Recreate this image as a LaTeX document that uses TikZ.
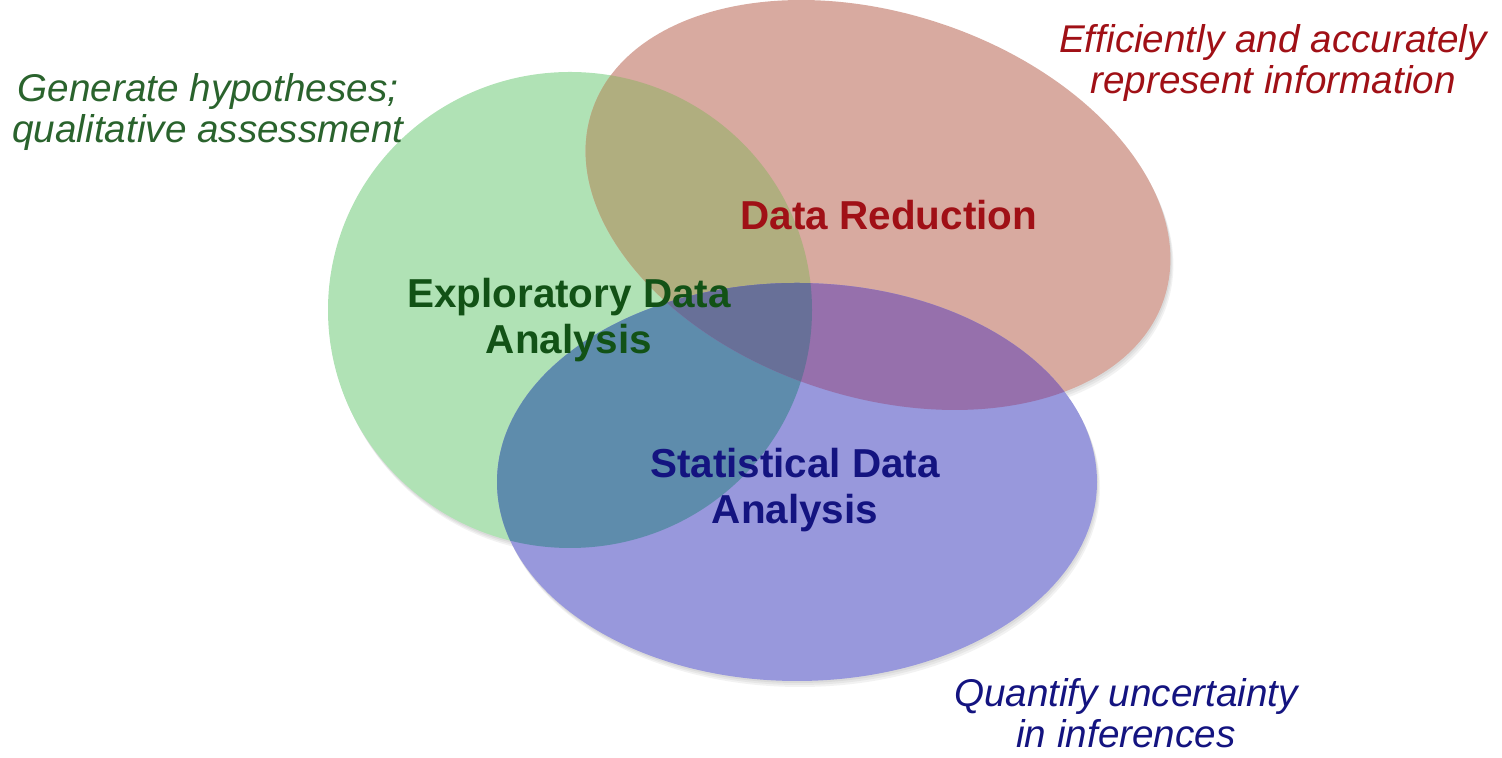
\documentclass[tikz,border=0pt]{standalone}
\usepackage{fontspec}
\setmainfont{Liberation Sans}

\definecolor{edafill}{RGB}{176,226,181}
\definecolor{drfill}{RGB}{216,170,160}
\definecolor{sdafill}{RGB}{152,152,220}
\definecolor{edadrfill}{RGB}{176,174,127}
\definecolor{edasdafill}{RGB}{94,140,172}
\definecolor{drsdafill}{RGB}{150,112,172}
\definecolor{allfill}{RGB}{104,112,152}
\definecolor{edatext}{RGB}{18,82,22}
\definecolor{drtext}{RGB}{160,16,22}
\definecolor{sdatext}{RGB}{20,20,128}

\newcommand\edashape{(11.40,8.96) ellipse [x radius=4.84, y radius=4.76]}
\newcommand\drshape{[rotate around={-18:(17.56,11.06)}] (17.56,11.06) ellipse [x radius=6.02, y radius=3.84]}
\newcommand\sdashape{(15.94,5.52) ellipse [x radius=6.00, y radius=3.98]}

\begin{document}
\begin{tikzpicture}[title/.style={font=\fontsize{23}{26}\selectfont\bfseries,align=center,text=#1},
                    note/.style={font=\fontsize{22}{23.5}\selectfont\itshape,align=center,text=#1},
                    haze/.style={black,opacity=0.05}]
\useasboundingbox (0,0) rectangle (30.04,15.16);
% soft shadows under the three sets
\foreach \d in {0.04,0.08,0.12} {
  \fill[haze] [shift={(\d/2,-\d)}] \edashape;
  \fill[haze] [shift={(\d/2,-\d)}] \drshape;
  \fill[haze] [shift={(\d/2,-\d)}] \sdashape;
}
% the three sets and their overlaps
\fill[edafill] \edashape;
\fill[drfill] \drshape;
\begin{scope}
  \clip \edashape;
  \fill[edadrfill] \drshape;
\end{scope}
\fill[sdafill] \sdashape;
\begin{scope}
  \clip \sdashape;
  \fill[edasdafill] \edashape;
  \fill[drsdafill] \drshape;
  \clip \edashape;
  \fill[allfill] \drshape;
\end{scope}
% labels
\node [title=edatext] (eda) at (11.38,8.76) {Exploratory Data\\Analysis};
\node [title=drtext] (dr) at (17.78,10.86) {Data Reduction};
\node [title=sdatext] (sda) at (15.90,5.36) {Statistical Data\\Analysis};
\node [note=edatext!90!white] (gen) at (4.16,12.92) {Generate hypotheses;\\qualitative assessment};
\node [note=drtext] (eff) at (25.46,13.90) {Efficiently and accurately\\represent information};
\node [note=sdatext] (quant) at (22.52,0.90) {Quantify uncertainty\\in inferences};
\end{tikzpicture}
\end{document}
